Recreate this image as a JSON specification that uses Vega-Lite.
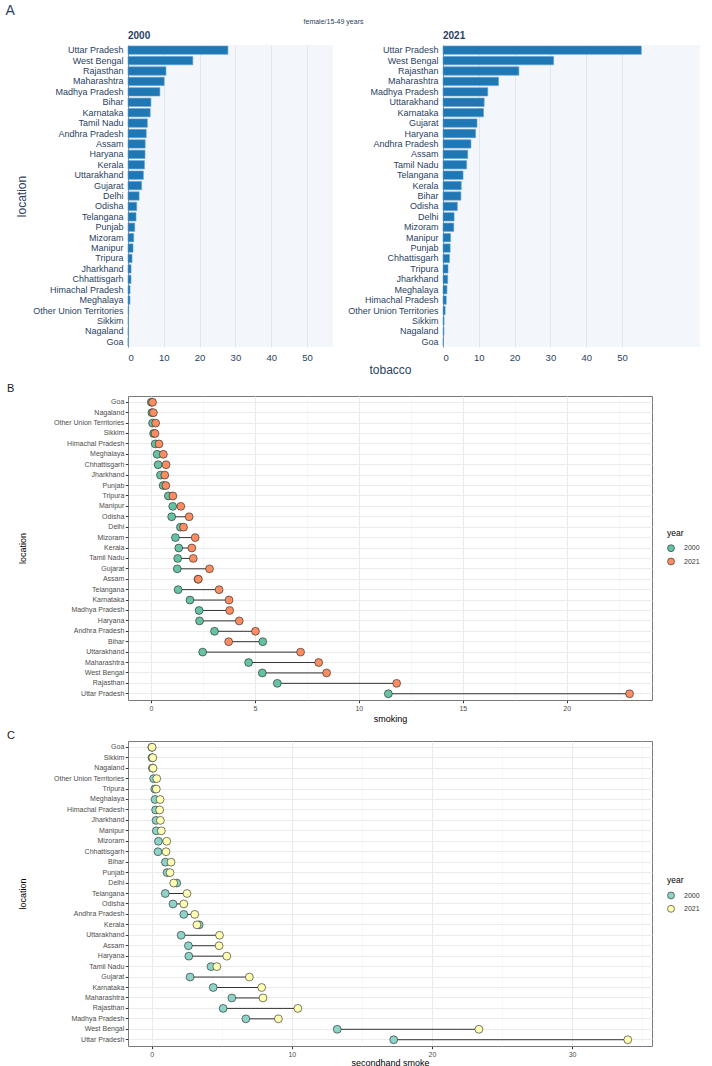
{
  "$schema": "https://vega.github.io/schema/vega-lite/v6.json",
  "background": "white",
  "padding": {"left": 5, "top": 4, "right": 0, "bottom": 0},
  "config": {
    "font": "Liberation Sans",
    "view": {"stroke": null}
  },
  "title": {"text": "A", "anchor": "start", "frame": "bounds", "fontSize": 14, "fontWeight": "normal", "color": "#2a3f5f", "dx": -1, "offset": 0},
  "datasets": {
    "tobacco": [
      {"location": "Uttar Pradesh", "year": 2000, "value": 27.9},
      {"location": "West Bengal", "year": 2000, "value": 18.1},
      {"location": "Rajasthan", "year": 2000, "value": 10.6},
      {"location": "Maharashtra", "year": 2000, "value": 10.1},
      {"location": "Madhya Pradesh", "year": 2000, "value": 8.9},
      {"location": "Bihar", "year": 2000, "value": 6.4},
      {"location": "Karnataka", "year": 2000, "value": 6.2},
      {"location": "Tamil Nadu", "year": 2000, "value": 5.4},
      {"location": "Andhra Pradesh", "year": 2000, "value": 5.1},
      {"location": "Assam", "year": 2000, "value": 4.8},
      {"location": "Haryana", "year": 2000, "value": 4.75},
      {"location": "Kerala", "year": 2000, "value": 4.6},
      {"location": "Uttarakhand", "year": 2000, "value": 4.3},
      {"location": "Gujarat", "year": 2000, "value": 3.8},
      {"location": "Delhi", "year": 2000, "value": 3.1},
      {"location": "Odisha", "year": 2000, "value": 2.43},
      {"location": "Telangana", "year": 2000, "value": 2.24},
      {"location": "Punjab", "year": 2000, "value": 1.87},
      {"location": "Mizoram", "year": 2000, "value": 1.59},
      {"location": "Manipur", "year": 2000, "value": 1.4},
      {"location": "Tripura", "year": 2000, "value": 1.12},
      {"location": "Jharkhand", "year": 2000, "value": 0.85},
      {"location": "Chhattisgarh", "year": 2000, "value": 0.83},
      {"location": "Himachal Pradesh", "year": 2000, "value": 0.57},
      {"location": "Meghalaya", "year": 2000, "value": 0.55},
      {"location": "Other Union Territories", "year": 2000, "value": 0.19},
      {"location": "Sikkim", "year": 2000, "value": 0.12},
      {"location": "Nagaland", "year": 2000, "value": 0.1},
      {"location": "Goa", "year": 2000, "value": 0.04},
      {"location": "Uttar Pradesh", "year": 2021, "value": 55.4},
      {"location": "West Bengal", "year": 2021, "value": 30.9},
      {"location": "Rajasthan", "year": 2021, "value": 21.2},
      {"location": "Maharashtra", "year": 2021, "value": 15.5},
      {"location": "Madhya Pradesh", "year": 2021, "value": 12.5},
      {"location": "Uttarakhand", "year": 2021, "value": 11.5},
      {"location": "Karnataka", "year": 2021, "value": 11.3},
      {"location": "Gujarat", "year": 2021, "value": 9.5},
      {"location": "Haryana", "year": 2021, "value": 9.1},
      {"location": "Andhra Pradesh", "year": 2021, "value": 7.8},
      {"location": "Assam", "year": 2021, "value": 6.9},
      {"location": "Tamil Nadu", "year": 2021, "value": 6.6},
      {"location": "Telangana", "year": 2021, "value": 5.6},
      {"location": "Kerala", "year": 2021, "value": 5.1},
      {"location": "Bihar", "year": 2021, "value": 5.0},
      {"location": "Odisha", "year": 2021, "value": 4.0},
      {"location": "Delhi", "year": 2021, "value": 3.1},
      {"location": "Mizoram", "year": 2021, "value": 3.0},
      {"location": "Manipur", "year": 2021, "value": 2.1},
      {"location": "Punjab", "year": 2021, "value": 2.0},
      {"location": "Chhattisgarh", "year": 2021, "value": 1.8},
      {"location": "Tripura", "year": 2021, "value": 1.4},
      {"location": "Jharkhand", "year": 2021, "value": 1.3},
      {"location": "Meghalaya", "year": 2021, "value": 1.1},
      {"location": "Himachal Pradesh", "year": 2021, "value": 0.9},
      {"location": "Other Union Territories", "year": 2021, "value": 0.6},
      {"location": "Sikkim", "year": 2021, "value": 0.3},
      {"location": "Nagaland", "year": 2021, "value": 0.25},
      {"location": "Goa", "year": 2021, "value": 0.1}
    ],
    "smoking": [
      {"location": "Goa", "year": 2000, "value": 0.02},
      {"location": "Nagaland", "year": 2000, "value": 0.05},
      {"location": "Other Union Territories", "year": 2000, "value": 0.08},
      {"location": "Sikkim", "year": 2000, "value": 0.13},
      {"location": "Himachal Pradesh", "year": 2000, "value": 0.21},
      {"location": "Meghalaya", "year": 2000, "value": 0.3},
      {"location": "Chhattisgarh", "year": 2000, "value": 0.35},
      {"location": "Jharkhand", "year": 2000, "value": 0.46},
      {"location": "Punjab", "year": 2000, "value": 0.59},
      {"location": "Tripura", "year": 2000, "value": 0.84},
      {"location": "Manipur", "year": 2000, "value": 1.05},
      {"location": "Odisha", "year": 2000, "value": 1.0},
      {"location": "Delhi", "year": 2000, "value": 1.42},
      {"location": "Mizoram", "year": 2000, "value": 1.18},
      {"location": "Kerala", "year": 2000, "value": 1.34},
      {"location": "Tamil Nadu", "year": 2000, "value": 1.29},
      {"location": "Gujarat", "year": 2000, "value": 1.27},
      {"location": "Assam", "year": 2000, "value": 2.27},
      {"location": "Telangana", "year": 2000, "value": 1.31},
      {"location": "Karnataka", "year": 2000, "value": 1.88},
      {"location": "Madhya Pradesh", "year": 2000, "value": 2.32},
      {"location": "Haryana", "year": 2000, "value": 2.34},
      {"location": "Andhra Pradesh", "year": 2000, "value": 3.06},
      {"location": "Bihar", "year": 2000, "value": 5.38},
      {"location": "Uttarakhand", "year": 2000, "value": 2.49},
      {"location": "Maharashtra", "year": 2000, "value": 4.7},
      {"location": "West Bengal", "year": 2000, "value": 5.36},
      {"location": "Rajasthan", "year": 2000, "value": 6.08},
      {"location": "Uttar Pradesh", "year": 2000, "value": 11.42},
      {"location": "Goa", "year": 2021, "value": 0.08},
      {"location": "Nagaland", "year": 2021, "value": 0.12},
      {"location": "Other Union Territories", "year": 2021, "value": 0.23},
      {"location": "Sikkim", "year": 2021, "value": 0.2},
      {"location": "Himachal Pradesh", "year": 2021, "value": 0.39},
      {"location": "Meghalaya", "year": 2021, "value": 0.6},
      {"location": "Chhattisgarh", "year": 2021, "value": 0.73},
      {"location": "Jharkhand", "year": 2021, "value": 0.67},
      {"location": "Punjab", "year": 2021, "value": 0.72},
      {"location": "Tripura", "year": 2021, "value": 1.06},
      {"location": "Manipur", "year": 2021, "value": 1.44},
      {"location": "Odisha", "year": 2021, "value": 1.84},
      {"location": "Delhi", "year": 2021, "value": 1.57},
      {"location": "Mizoram", "year": 2021, "value": 2.13},
      {"location": "Kerala", "year": 2021, "value": 1.97},
      {"location": "Tamil Nadu", "year": 2021, "value": 2.04},
      {"location": "Gujarat", "year": 2021, "value": 2.82},
      {"location": "Assam", "year": 2021, "value": 2.28},
      {"location": "Telangana", "year": 2021, "value": 3.28},
      {"location": "Karnataka", "year": 2021, "value": 3.76},
      {"location": "Madhya Pradesh", "year": 2021, "value": 3.79},
      {"location": "Haryana", "year": 2021, "value": 4.25},
      {"location": "Andhra Pradesh", "year": 2021, "value": 5.03},
      {"location": "Bihar", "year": 2021, "value": 3.74},
      {"location": "Uttarakhand", "year": 2021, "value": 7.2},
      {"location": "Maharashtra", "year": 2021, "value": 8.07},
      {"location": "West Bengal", "year": 2021, "value": 8.45},
      {"location": "Rajasthan", "year": 2021, "value": 11.82},
      {"location": "Uttar Pradesh", "year": 2021, "value": 23.02}
    ],
    "secondhand": [
      {"location": "Goa", "year": 2000, "value": 0.01},
      {"location": "Sikkim", "year": 2000, "value": 0.02},
      {"location": "Nagaland", "year": 2000, "value": 0.05},
      {"location": "Other Union Territories", "year": 2000, "value": 0.14},
      {"location": "Tripura", "year": 2000, "value": 0.22},
      {"location": "Meghalaya", "year": 2000, "value": 0.24},
      {"location": "Himachal Pradesh", "year": 2000, "value": 0.28},
      {"location": "Jharkhand", "year": 2000, "value": 0.31},
      {"location": "Manipur", "year": 2000, "value": 0.33},
      {"location": "Mizoram", "year": 2000, "value": 0.48},
      {"location": "Chhattisgarh", "year": 2000, "value": 0.45},
      {"location": "Bihar", "year": 2000, "value": 0.98},
      {"location": "Punjab", "year": 2000, "value": 1.1},
      {"location": "Delhi", "year": 2000, "value": 1.79},
      {"location": "Telangana", "year": 2000, "value": 0.97},
      {"location": "Odisha", "year": 2000, "value": 1.52},
      {"location": "Andhra Pradesh", "year": 2000, "value": 2.29},
      {"location": "Kerala", "year": 2000, "value": 3.39},
      {"location": "Uttarakhand", "year": 2000, "value": 2.1},
      {"location": "Assam", "year": 2000, "value": 2.62},
      {"location": "Haryana", "year": 2000, "value": 2.65},
      {"location": "Tamil Nadu", "year": 2000, "value": 4.23},
      {"location": "Gujarat", "year": 2000, "value": 2.74},
      {"location": "Karnataka", "year": 2000, "value": 4.39},
      {"location": "Maharashtra", "year": 2000, "value": 5.72},
      {"location": "Rajasthan", "year": 2000, "value": 5.1},
      {"location": "Madhya Pradesh", "year": 2000, "value": 6.72},
      {"location": "West Bengal", "year": 2000, "value": 13.24},
      {"location": "Uttar Pradesh", "year": 2000, "value": 17.27},
      {"location": "Goa", "year": 2021, "value": 0.03},
      {"location": "Sikkim", "year": 2021, "value": 0.08},
      {"location": "Nagaland", "year": 2021, "value": 0.1},
      {"location": "Other Union Territories", "year": 2021, "value": 0.36},
      {"location": "Tripura", "year": 2021, "value": 0.33},
      {"location": "Meghalaya", "year": 2021, "value": 0.6},
      {"location": "Himachal Pradesh", "year": 2021, "value": 0.57},
      {"location": "Jharkhand", "year": 2021, "value": 0.62},
      {"location": "Manipur", "year": 2021, "value": 0.69},
      {"location": "Mizoram", "year": 2021, "value": 1.07},
      {"location": "Chhattisgarh", "year": 2021, "value": 1.02},
      {"location": "Bihar", "year": 2021, "value": 1.38},
      {"location": "Punjab", "year": 2021, "value": 1.31},
      {"location": "Delhi", "year": 2021, "value": 1.57},
      {"location": "Telangana", "year": 2021, "value": 2.52},
      {"location": "Odisha", "year": 2021, "value": 2.29},
      {"location": "Andhra Pradesh", "year": 2021, "value": 3.07},
      {"location": "Kerala", "year": 2021, "value": 3.23},
      {"location": "Uttarakhand", "year": 2021, "value": 4.84},
      {"location": "Assam", "year": 2021, "value": 4.81},
      {"location": "Haryana", "year": 2021, "value": 5.36},
      {"location": "Tamil Nadu", "year": 2021, "value": 4.65},
      {"location": "Gujarat", "year": 2021, "value": 6.97},
      {"location": "Karnataka", "year": 2021, "value": 7.85},
      {"location": "Maharashtra", "year": 2021, "value": 7.94},
      {"location": "Rajasthan", "year": 2021, "value": 10.43},
      {"location": "Madhya Pradesh", "year": 2021, "value": 9.04},
      {"location": "West Bengal", "year": 2021, "value": 23.35},
      {"location": "Uttar Pradesh", "year": 2021, "value": 33.97}
    ]
  },
  "spacing": 7,
  "vconcat": [
    {
      "title": {"text": "female/15-49 years", "anchor": "middle", "fontSize": 7, "fontWeight": "normal", "color": "#2a3f5f", "dx": -24, "offset": 6},
      "spacing": 13,
      "hconcat": [
        {
          "width": 205,
          "height": 302,
          "view": {"fill": "#f3f6fb", "stroke": null},
          "title": {"text": "2000", "anchor": "start", "frame": "group", "fontSize": 10, "fontWeight": "bold", "color": "#2a3f5f", "offset": 4},
          "data": {"name": "tobacco"},
          "transform": [{"filter": "datum.year == 2000"}],
          "mark": {"type": "bar", "fill": "#1f77b4", "stroke": "#5e9fd3", "strokeWidth": 0.6},
          "encoding": {
            "y": {
              "field": "location", "type": "nominal",
              "sort": ["Uttar Pradesh", "West Bengal", "Rajasthan", "Maharashtra", "Madhya Pradesh", "Bihar", "Karnataka", "Tamil Nadu", "Andhra Pradesh", "Assam", "Haryana", "Kerala", "Uttarakhand", "Gujarat", "Delhi", "Odisha", "Telangana", "Punjab", "Mizoram", "Manipur", "Tripura", "Jharkhand", "Chhattisgarh", "Himachal Pradesh", "Meghalaya", "Other Union Territories", "Sikkim", "Nagaland", "Goa"],
              "scale": {"paddingInner": 0.2, "paddingOuter": 0.1},
              "axis": {"title": "location", "titleFontSize": 12, "titleFontWeight": "normal", "titleColor": "#2a3f5f", "titlePadding": 3, "labelFontSize": 9, "labelColor": "#2a3f5f", "labelPadding": 5, "ticks": false, "grid": false, "domainColor": "#8090a6", "domainWidth": 1, "minExtent": 97, "maxExtent": 97}
            },
            "x": {
              "field": "value", "type": "quantitative",
              "scale": {"domain": [0, 57.26], "nice": false},
              "axis": {"values": [0, 10, 20, 30, 40, 50], "title": null, "grid": true, "gridColor": "#e1e6ee", "ticks": false, "domain": false, "labelFontSize": 9.5, "labelColor": "#2a3f5f", "labelPadding": 5}
            }
          }
        },
        {
          "width": 257,
          "height": 302,
          "view": {"fill": "#f3f6fb", "stroke": null},
          "title": {"text": "2021", "anchor": "start", "frame": "group", "fontSize": 10, "fontWeight": "bold", "color": "#2a3f5f", "offset": 4},
          "data": {"name": "tobacco"},
          "transform": [{"filter": "datum.year == 2021"}],
          "mark": {"type": "bar", "fill": "#1f77b4", "stroke": "#5e9fd3", "strokeWidth": 0.6},
          "encoding": {
            "y": {
              "field": "location", "type": "nominal",
              "sort": ["Uttar Pradesh", "West Bengal", "Rajasthan", "Maharashtra", "Madhya Pradesh", "Uttarakhand", "Karnataka", "Gujarat", "Haryana", "Andhra Pradesh", "Assam", "Tamil Nadu", "Telangana", "Kerala", "Bihar", "Odisha", "Delhi", "Mizoram", "Manipur", "Punjab", "Chhattisgarh", "Tripura", "Jharkhand", "Meghalaya", "Himachal Pradesh", "Other Union Territories", "Sikkim", "Nagaland", "Goa"],
              "scale": {"paddingInner": 0.2, "paddingOuter": 0.1},
              "axis": {"title": null, "labelFontSize": 9, "labelColor": "#2a3f5f", "labelPadding": 5, "ticks": false, "grid": false, "domainColor": "#8090a6", "domainWidth": 1, "minExtent": 97, "maxExtent": 97}
            },
            "x": {
              "field": "value", "type": "quantitative",
              "scale": {"domain": [0, 71.8], "nice": false},
              "axis": {"values": [0, 10, 20, 30, 40, 50], "title": "tobacco", "titleFontSize": 12, "titleFontWeight": "normal", "titleColor": "#2a3f5f", "titleAlign": "center", "titleBaseline": "top", "titleX": -53, "titleY": 17, "grid": true, "gridColor": "#e1e6ee", "ticks": false, "domain": false, "labelFontSize": 9.5, "labelColor": "#2a3f5f", "labelPadding": 5}
            }
          }
        }
      ]
    },
    {
      "spacing": 5,
      "resolve": {"scale": {"fill": "independent"}, "legend": {"fill": "independent"}},
      "vconcat": [
        {
          "width": 524,
          "height": 304,
          "view": {"stroke": "#7a7a7a", "strokeWidth": 1},
          "title": {"text": "B", "anchor": "start", "frame": "group", "fontSize": 11, "fontWeight": "normal", "color": "#1a1a1a", "dx": -121, "offset": 2},
          "data": {"name": "smoking"},
          "layer": [
            {
              "transform": [{"pivot": "year", "value": "value", "groupby": ["location"]}],
              "mark": {"type": "rule", "color": "#333333", "strokeWidth": 1},
              "encoding": {
                "y": {
                  "field": "location", "type": "nominal",
                  "sort": ["Goa", "Nagaland", "Other Union Territories", "Sikkim", "Himachal Pradesh", "Meghalaya", "Chhattisgarh", "Jharkhand", "Punjab", "Tripura", "Manipur", "Odisha", "Delhi", "Mizoram", "Kerala", "Tamil Nadu", "Gujarat", "Assam", "Telangana", "Karnataka", "Madhya Pradesh", "Haryana", "Andhra Pradesh", "Bihar", "Uttarakhand", "Maharashtra", "West Bengal", "Rajasthan", "Uttar Pradesh"],
                  "scale": {"paddingInner": 0, "paddingOuter": 0.1},
                  "axis": {"title": "location", "titleFontSize": 9, "titleFontWeight": "normal", "titleColor": "#000000", "titlePadding": 3.5, "labelFontSize": 7, "labelColor": "#4d4d4d", "labelPadding": 1.5, "tickColor": "#333333", "tickSize": 2.7, "domain": false, "grid": true, "gridColor": "#ebebeb", "minExtent": 97, "maxExtent": 97}
                },
                "x": {
                  "field": "2000", "type": "quantitative",
                  "scale": {"domain": [-1.1, 24.1], "nice": false, "zero": false},
                  "axis": {"orient": "top", "values": [2.5, 7.5, 12.5, 17.5, 22.5], "labels": false, "ticks": false, "domain": false, "grid": true, "gridColor": "#f3f3f3", "gridWidth": 0.6, "title": null}
                },
                "x2": {"field": "2021"}
              }
            },
            {
              "mark": {"type": "point", "shape": "circle", "filled": true, "size": 62, "stroke": "#222222", "strokeWidth": 0.6, "opacity": 1},
              "encoding": {
                "y": {
                  "field": "location", "type": "nominal",
                  "sort": ["Goa", "Nagaland", "Other Union Territories", "Sikkim", "Himachal Pradesh", "Meghalaya", "Chhattisgarh", "Jharkhand", "Punjab", "Tripura", "Manipur", "Odisha", "Delhi", "Mizoram", "Kerala", "Tamil Nadu", "Gujarat", "Assam", "Telangana", "Karnataka", "Madhya Pradesh", "Haryana", "Andhra Pradesh", "Bihar", "Uttarakhand", "Maharashtra", "West Bengal", "Rajasthan", "Uttar Pradesh"]
                },
                "x": {
                  "field": "value", "type": "quantitative",
                  "axis": {"orient": "bottom", "values": [0, 5, 10, 15, 20], "title": "smoking", "titleFontSize": 9, "titleFontWeight": "normal", "titleColor": "#000000", "titlePadding": 3, "labelFontSize": 7, "labelColor": "#4d4d4d", "labelPadding": 1.5, "tickColor": "#333333", "tickSize": 2.7, "domain": false, "grid": true, "gridColor": "#ebebeb"}
                },
                "fill": {
                  "field": "year", "type": "nominal",
                  "scale": {"domain": [2000, 2021], "range": ["#66c2a5", "#fc8d62"]},
                  "legend": {"orient": "none", "legendX": 539, "legendY": 132.7, "title": "year", "titleFontSize": 8.5, "titleFontWeight": "normal", "titleColor": "#000000", "titlePadding": 7, "labelFontSize": 7, "labelColor": "#333333", "labelOffset": 9, "symbolSize": 48, "symbolStrokeColor": "#222222", "symbolStrokeWidth": 0.6, "rowPadding": 3.3}
                }
              }
            }
          ],
          "resolve": {"axis": {"x": "independent"}}
        },
        {
          "width": 524,
          "height": 305,
          "view": {"stroke": "#7a7a7a", "strokeWidth": 1},
          "title": {"text": "C", "anchor": "start", "frame": "group", "fontSize": 11, "fontWeight": "normal", "color": "#1a1a1a", "dx": -121, "offset": 0},
          "data": {"name": "secondhand"},
          "layer": [
            {
              "transform": [{"pivot": "year", "value": "value", "groupby": ["location"]}],
              "mark": {"type": "rule", "color": "#333333", "strokeWidth": 1},
              "encoding": {
                "y": {
                  "field": "location", "type": "nominal",
                  "sort": ["Goa", "Sikkim", "Nagaland", "Other Union Territories", "Tripura", "Meghalaya", "Himachal Pradesh", "Jharkhand", "Manipur", "Mizoram", "Chhattisgarh", "Bihar", "Punjab", "Delhi", "Telangana", "Odisha", "Andhra Pradesh", "Kerala", "Uttarakhand", "Assam", "Haryana", "Tamil Nadu", "Gujarat", "Karnataka", "Maharashtra", "Rajasthan", "Madhya Pradesh", "West Bengal", "Uttar Pradesh"],
                  "scale": {"paddingInner": 0, "paddingOuter": 0.1},
                  "axis": {"title": "location", "titleFontSize": 9, "titleFontWeight": "normal", "titleColor": "#000000", "titlePadding": 3.5, "labelFontSize": 7, "labelColor": "#4d4d4d", "labelPadding": 1.5, "tickColor": "#333333", "tickSize": 2.7, "domain": false, "grid": true, "gridColor": "#ebebeb", "minExtent": 97, "maxExtent": 97}
                },
                "x": {
                  "field": "2000", "type": "quantitative",
                  "scale": {"domain": [-1.69, 35.7], "nice": false, "zero": false},
                  "axis": {"orient": "top", "values": [5, 15, 25, 35], "labels": false, "ticks": false, "domain": false, "grid": true, "gridColor": "#f3f3f3", "gridWidth": 0.6, "title": null}
                },
                "x2": {"field": "2021"}
              }
            },
            {
              "mark": {"type": "point", "shape": "circle", "filled": true, "size": 62, "stroke": "#222222", "strokeWidth": 0.6, "opacity": 1},
              "encoding": {
                "y": {
                  "field": "location", "type": "nominal",
                  "sort": ["Goa", "Sikkim", "Nagaland", "Other Union Territories", "Tripura", "Meghalaya", "Himachal Pradesh", "Jharkhand", "Manipur", "Mizoram", "Chhattisgarh", "Bihar", "Punjab", "Delhi", "Telangana", "Odisha", "Andhra Pradesh", "Kerala", "Uttarakhand", "Assam", "Haryana", "Tamil Nadu", "Gujarat", "Karnataka", "Maharashtra", "Rajasthan", "Madhya Pradesh", "West Bengal", "Uttar Pradesh"]
                },
                "x": {
                  "field": "value", "type": "quantitative",
                  "axis": {"orient": "bottom", "values": [0, 10, 20, 30], "title": "secondhand smoke", "titleFontSize": 9, "titleFontWeight": "normal", "titleColor": "#000000", "titlePadding": 1, "labelFontSize": 7, "labelColor": "#4d4d4d", "labelPadding": 1.5, "tickColor": "#333333", "tickSize": 2.7, "domain": false, "grid": true, "gridColor": "#ebebeb"}
                },
                "fill": {
                  "field": "year", "type": "nominal",
                  "scale": {"domain": [2000, 2021], "range": ["#8dd3c7", "#ffffb3"]},
                  "legend": {"orient": "none", "legendX": 539, "legendY": 135, "title": "year", "titleFontSize": 8.5, "titleFontWeight": "normal", "titleColor": "#000000", "titlePadding": 7, "labelFontSize": 7, "labelColor": "#333333", "labelOffset": 9, "symbolSize": 48, "symbolStrokeColor": "#222222", "symbolStrokeWidth": 0.6, "rowPadding": 3.3}
                }
              }
            }
          ],
          "resolve": {"axis": {"x": "independent"}}
        }
      ]
    }
  ]
}
